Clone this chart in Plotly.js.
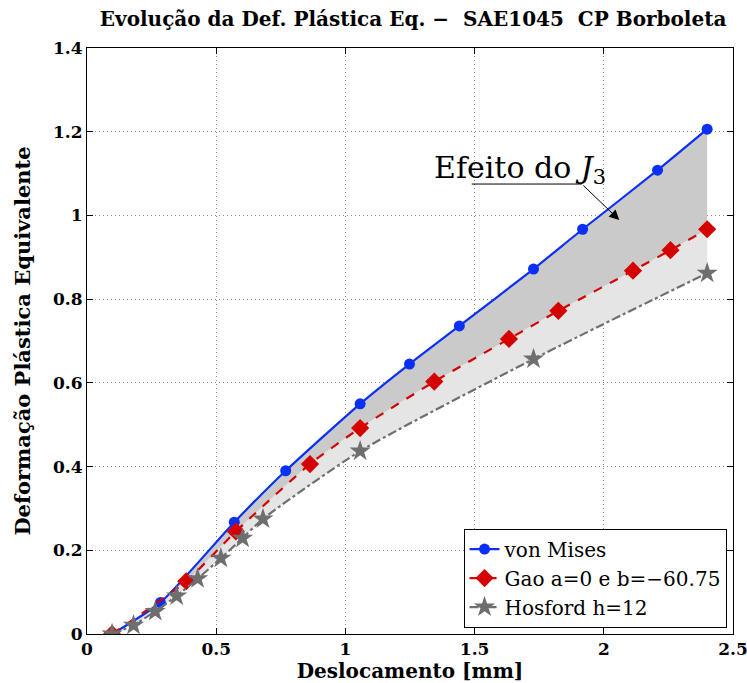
<!DOCTYPE html>
<html>
<head>
<meta charset="utf-8">
<script src="https://cdn.plot.ly/plotly-3.0.1.min.js"></script>
<style>html,body{margin:0;padding:0;background:#fff;}#chart{width:747px;height:683px;}</style>
</head>
<body>
<div id="chart"></div>
<script>
// Data
const misesX = [0.097, 0.284, 0.570, 0.769, 1.057, 1.248, 1.441, 1.728, 1.918, 2.208, 2.400];
const misesY = [0.000, 0.075, 0.267, 0.390, 0.550, 0.645, 0.736, 0.872, 0.967, 1.108, 1.206];

const gaoX = [0.097, 0.384, 0.576, 0.863, 1.057, 1.344, 1.633, 1.824, 2.113, 2.258, 2.400];
const gaoY = [0.000, 0.126, 0.245, 0.406, 0.492, 0.603, 0.705, 0.772, 0.868, 0.917, 0.967];

const hosX = [0.097, 0.180, 0.264, 0.347, 0.428, 0.518, 0.602, 0.681, 1.057, 1.728, 2.400];
const hosY = [0.000, 0.021, 0.054, 0.091, 0.132, 0.181, 0.229, 0.275, 0.437, 0.657, 0.862];

const seriesNames = ['von Mises', 'Gao a=0 e b=\u221260.75', 'Hosford h=12'];
const xTicks = [0, 0.5, 1, 1.5, 2, 2.5];
const xTickText = ['0', '0.5', '1', '1.5', '2', '2.5'];
const yTicks = [0, 0.2, 0.4, 0.6, 0.8, 1, 1.2, 1.4];
const yTickText = ['0', '0.2', '0.4', '0.6', '0.8', '1', '1.2', '1.4'];

const serif = '"DejaVu Serif", "Liberation Serif", serif';
const smooth = 0.6;

const traces = [
  // fill band traces (no legend)
  {x: hosX, y: hosY, mode: 'lines', line: {width: 0, shape: 'spline', smoothing: smooth}, showlegend: false, hoverinfo: 'skip'},
  {x: gaoX, y: gaoY, mode: 'lines', fill: 'tonexty', fillcolor: '#e5e5e5', line: {width: 0, shape: 'spline', smoothing: smooth}, showlegend: false, hoverinfo: 'skip'},
  {x: misesX, y: misesY, mode: 'lines', fill: 'tonexty', fillcolor: '#cacaca', line: {width: 0, shape: 'spline', smoothing: smooth}, showlegend: false, hoverinfo: 'skip'},
  // series
  {x: misesX, y: misesY, name: seriesNames[0], mode: 'lines+markers',
   line: {color: '#0a2ff5', width: 2.2, shape: 'spline', smoothing: smooth},
   marker: {symbol: 'circle', size: 11, color: '#0a2ff5'}},
  {x: gaoX, y: gaoY, name: seriesNames[1], mode: 'lines+markers',
   line: {color: '#d50000', width: 2.2, dash: 'dash', shape: 'spline', smoothing: smooth},
   marker: {symbol: 'diamond', size: 14, color: '#d50000'}},
  {x: hosX, y: hosY, name: seriesNames[2], mode: 'lines+markers',
   line: {color: '#6e6e6e', width: 2.2, dash: 'dashdot', shape: 'spline', smoothing: smooth},
   marker: {symbol: 'star', size: 16, color: '#6e6e6e'}}
];

const axisCommon = {
  showline: true, linecolor: '#000', linewidth: 1, mirror: 'ticks',
  ticks: 'inside', ticklen: 6, tickcolor: '#000',
  showgrid: true, gridcolor: '#8a8a8a', griddash: '1px,3px', gridwidth: 1,
  zeroline: false, ticklabeloverflow: 'allow',
  tickfont: {family: serif, size: 17, color: '#000', weight: 'bold'}
};

const layout = {
  width: 747, height: 683,
  margin: {l: 87, r: 14, t: 48, b: 49},
  paper_bgcolor: '#fff', plot_bgcolor: '#fff',
  title: {text: 'Evolução da Def. Plástica Eq. \u2212  SAE1045  CP Borboleta',
          font: {family: serif, size: 20, color: '#000', weight: 'bold'},
          x: 0.553, xanchor: 'center', y: 0.983, yanchor: 'top'},
  xaxis: Object.assign({}, axisCommon, {
    range: [0, 2.5], tickvals: xTicks, ticktext: xTickText,
    title: {text: 'Deslocamento [mm]', font: {family: serif, size: 20, color: '#000', weight: 'bold'}, standoff: 1}
  }),
  yaxis: Object.assign({}, axisCommon, {
    range: [0, 1.4], tickvals: yTicks, ticktext: yTickText,
    title: {text: 'Deformação Plástica Equivalente', font: {family: serif, size: 21, color: '#000', weight: 'bold'}, standoff: 16}
  }),
  legend: {
    x: 0.99, xanchor: 'right', y: 0.011, yanchor: 'bottom',
    traceorder: 'normal',
    bgcolor: '#fff', bordercolor: '#000', borderwidth: 1,
    font: {family: serif, size: 20, color: '#000'},
    tracegroupgap: 0
  },
  shapes: [
    {type: 'line', xref: 'x', yref: 'y', x0: 1.489, y0: 1.075, x1: 1.915, y1: 1.075, line: {color: '#000', width: 1}}
  ],
  annotations: [
    {x: 1.676, y: 1.11, xref: 'x', yref: 'y', text: 'Efeito do <i>J</i><sub>3</sub>', showarrow: false,
     font: {family: serif, size: 30, color: '#000'}},
    {x: 2.06, y: 0.989, xref: 'x', yref: 'y', ax: 1.915, ay: 1.075, axref: 'x', ayref: 'y',
     text: '', showarrow: true, arrowhead: 2, arrowsize: 2, arrowwidth: 1, arrowcolor: '#000'}
  ]
};

Plotly.newPlot('chart', traces, layout, {displayModeBar: false, staticPlot: true});
</script>
</body>
</html>
